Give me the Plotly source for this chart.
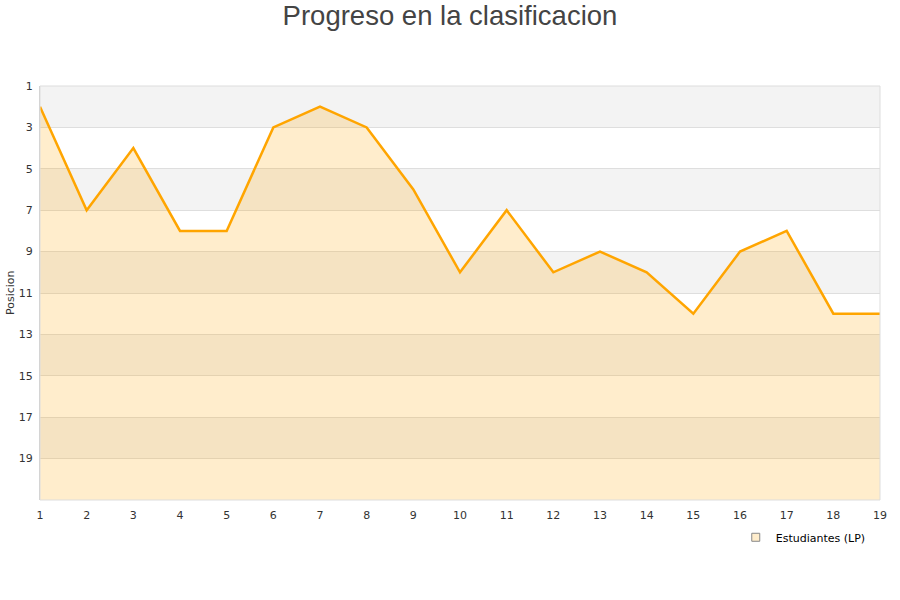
import plotly.graph_objects as go

jornadas = list(range(1, 20))
posiciones = [2, 7, 4, 8, 8, 3, 2, 3, 6, 10, 7, 10, 9, 10, 12, 9, 8, 12, 12]
equipo = "Estudiantes (LP)"
y_ticks = [1, 3, 5, 7, 9, 11, 13, 15, 17, 19]
y_bottom = 21
y_top = 1

fig = go.Figure()

shapes = []
for i, t in enumerate(y_ticks):
    if i % 2 == 0:
        shapes.append(dict(type="rect", xref="paper", yref="y", x0=0, x1=1,
                           y0=t, y1=t + 2, fillcolor="#f3f3f3", line_width=0,
                           layer="below"))
shapes.append(dict(type="rect", xref="paper", yref="paper", x0=0, x1=1, y0=0, y1=1,
                   line=dict(color="#dddddd", width=1), fillcolor="rgba(0,0,0,0)",
                   layer="above"))

fig.add_trace(go.Scatter(x=jornadas, y=[y_bottom] * len(jornadas), mode="lines",
                         line=dict(width=0), showlegend=False, hoverinfo="skip"))
fig.add_trace(go.Scatter(x=jornadas, y=posiciones, mode="lines", name=equipo,
                         fill="tonexty", fillcolor="rgba(255,165,0,0.2)",
                         line=dict(color="#FFA500", width=2.5), showlegend=False))
fig.add_trace(go.Scatter(x=[None], y=[None], mode="markers", name=equipo,
                         marker=dict(symbol="square", size=8, color="#ffedcc",
                                     line=dict(color="#888888", width=1)),
                         showlegend=True))

fig.update_layout(
    width=900, height=600,
    paper_bgcolor="white", plot_bgcolor="white",
    margin=dict(l=40, r=20, t=86, b=100),
    title=dict(text="Progreso en la clasificacion", x=0.5, xanchor="center",
               y=1 - 15 / 600, yanchor="middle",
               font=dict(family="Liberation Sans, Arial", size=27.5, color="#444444")),
    font=dict(family="DejaVu Sans", size=11, color="#333333"),
    shapes=shapes,
    showlegend=True,
    legend=dict(x=0.989, xanchor="right", y=-0.055, yanchor="top",
                bgcolor="white", font=dict(size=11, color="#000000"),
                itemwidth=30, tracegroupgap=0),
    annotations=[
        dict(text="Posicion", xref="paper", yref="paper", x=-30 / 840, y=0.5,
             xanchor="center", yanchor="middle", textangle=-90, showarrow=False,
             font=dict(size=11, color="#333333")),
    ],
)
fig.update_xaxes(range=[1, 19], tickvals=jornadas, showgrid=False, zeroline=False,
                 showline=False, ticks="", automargin=False, ticklabelstandoff=7,
                 tickfont=dict(size=11, color="#333333"))
fig.update_yaxes(range=[y_bottom, y_top], tickvals=y_ticks, showgrid=True,
                 gridcolor="#dedede", zeroline=False, showline=True, linecolor="#cccccc",
                 ticks="", automargin=False, ticklabelstandoff=4,
                 tickfont=dict(size=11, color="#333333"))

fig.write_html("out.html", config={"displayModeBar": False},
               post_script="document.body.style.margin='0';")
